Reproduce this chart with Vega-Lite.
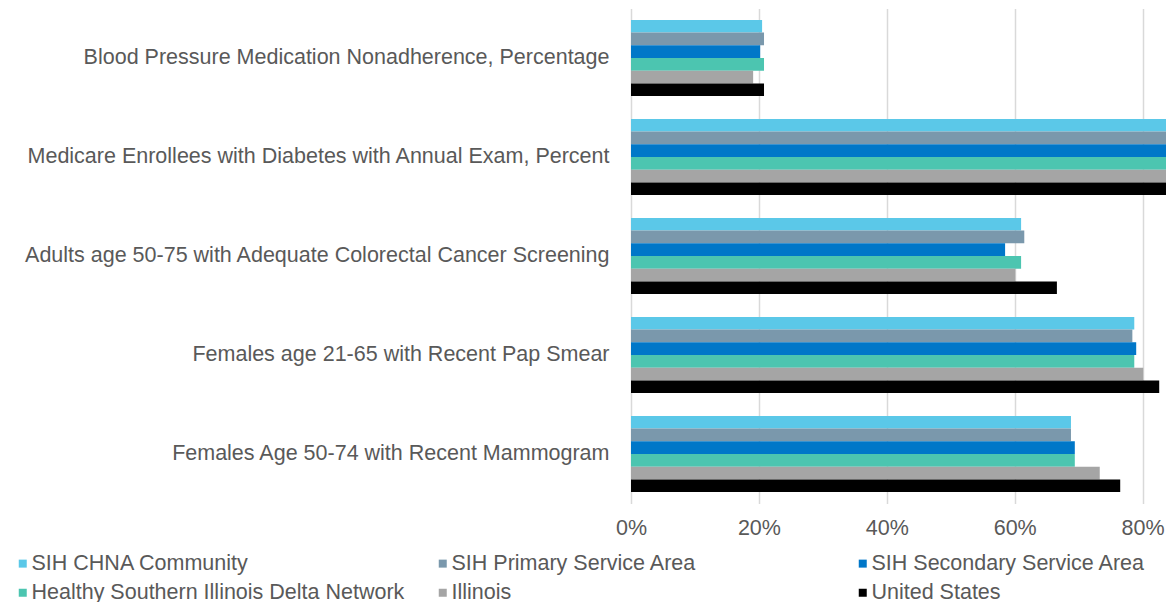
{
  "$schema": "https://vega.github.io/schema/vega-lite/v6.json",
  "autosize": {"type": "none"},
  "width": 535,
  "height": 495,
  "padding": {"left": 631, "top": 8.5, "right": 0, "bottom": 98.5},
  "background": "white",
  "config": {
    "font": "Liberation Sans",
    "view": {"stroke": null}
  },
  "data": {
    "values": [
      {"measure": "Blood Pressure Medication Nonadherence, Percentage", "series": "SIH CHNA Community", "value": 0.205},
      {"measure": "Blood Pressure Medication Nonadherence, Percentage", "series": "SIH Primary Service Area", "value": 0.208},
      {"measure": "Blood Pressure Medication Nonadherence, Percentage", "series": "SIH Secondary Service Area", "value": 0.202},
      {"measure": "Blood Pressure Medication Nonadherence, Percentage", "series": "Healthy Southern Illinois Delta Network", "value": 0.208},
      {"measure": "Blood Pressure Medication Nonadherence, Percentage", "series": "Illinois", "value": 0.191},
      {"measure": "Blood Pressure Medication Nonadherence, Percentage", "series": "United States", "value": 0.208},
      {"measure": "Medicare Enrollees with Diabetes with Annual Exam, Percent", "series": "SIH CHNA Community", "value": 0.86},
      {"measure": "Medicare Enrollees with Diabetes with Annual Exam, Percent", "series": "SIH Primary Service Area", "value": 0.87},
      {"measure": "Medicare Enrollees with Diabetes with Annual Exam, Percent", "series": "SIH Secondary Service Area", "value": 0.86},
      {"measure": "Medicare Enrollees with Diabetes with Annual Exam, Percent", "series": "Healthy Southern Illinois Delta Network", "value": 0.86},
      {"measure": "Medicare Enrollees with Diabetes with Annual Exam, Percent", "series": "Illinois", "value": 0.85},
      {"measure": "Medicare Enrollees with Diabetes with Annual Exam, Percent", "series": "United States", "value": 0.86},
      {"measure": "Adults age 50-75 with Adequate Colorectal Cancer Screening", "series": "SIH CHNA Community", "value": 0.610},
      {"measure": "Adults age 50-75 with Adequate Colorectal Cancer Screening", "series": "SIH Primary Service Area", "value": 0.615},
      {"measure": "Adults age 50-75 with Adequate Colorectal Cancer Screening", "series": "SIH Secondary Service Area", "value": 0.585},
      {"measure": "Adults age 50-75 with Adequate Colorectal Cancer Screening", "series": "Healthy Southern Illinois Delta Network", "value": 0.610},
      {"measure": "Adults age 50-75 with Adequate Colorectal Cancer Screening", "series": "Illinois", "value": 0.601},
      {"measure": "Adults age 50-75 with Adequate Colorectal Cancer Screening", "series": "United States", "value": 0.666},
      {"measure": "Females age 21-65 with Recent Pap Smear", "series": "SIH CHNA Community", "value": 0.787},
      {"measure": "Females age 21-65 with Recent Pap Smear", "series": "SIH Primary Service Area", "value": 0.784},
      {"measure": "Females age 21-65 with Recent Pap Smear", "series": "SIH Secondary Service Area", "value": 0.790},
      {"measure": "Females age 21-65 with Recent Pap Smear", "series": "Healthy Southern Illinois Delta Network", "value": 0.787},
      {"measure": "Females age 21-65 with Recent Pap Smear", "series": "Illinois", "value": 0.801},
      {"measure": "Females age 21-65 with Recent Pap Smear", "series": "United States", "value": 0.826},
      {"measure": "Females Age 50-74 with Recent Mammogram", "series": "SIH CHNA Community", "value": 0.688},
      {"measure": "Females Age 50-74 with Recent Mammogram", "series": "SIH Primary Service Area", "value": 0.688},
      {"measure": "Females Age 50-74 with Recent Mammogram", "series": "SIH Secondary Service Area", "value": 0.694},
      {"measure": "Females Age 50-74 with Recent Mammogram", "series": "Healthy Southern Illinois Delta Network", "value": 0.694},
      {"measure": "Females Age 50-74 with Recent Mammogram", "series": "Illinois", "value": 0.733},
      {"measure": "Females Age 50-74 with Recent Mammogram", "series": "United States", "value": 0.765}
    ]
  },
  "mark": {"type": "bar", "clip": true},
  "encoding": {
    "y": {
      "field": "measure",
      "type": "nominal",
      "sort": [
        "Blood Pressure Medication Nonadherence, Percentage",
        "Medicare Enrollees with Diabetes with Annual Exam, Percent",
        "Adults age 50-75 with Adequate Colorectal Cancer Screening",
        "Females age 21-65 with Recent Pap Smear",
        "Females Age 50-74 with Recent Mammogram"
      ],
      "scale": {"paddingInner": 0.23, "paddingOuter": 0.115},
      "axis": {
        "title": null,
        "domain": false,
        "ticks": false,
        "labelPadding": 22,
        "labelFontSize": 21.5,
        "labelColor": "#595959",
        "labelLimit": 700
      }
    },
    "yOffset": {
      "field": "series",
      "type": "nominal",
      "sort": [
        "SIH CHNA Community",
        "SIH Primary Service Area",
        "SIH Secondary Service Area",
        "Healthy Southern Illinois Delta Network",
        "Illinois",
        "United States"
      ],
      "scale": {"paddingInner": 0, "paddingOuter": 0}
    },
    "x": {
      "field": "value",
      "type": "quantitative",
      "scale": {"domain": [0, 0.8366], "nice": false, "zero": true},
      "axis": {
        "title": null,
        "format": ".0%",
        "values": [0, 0.2, 0.4, 0.6, 0.8],
        "domain": false,
        "ticks": false,
        "grid": true,
        "gridColor": "#d9d9d9",
        "gridWidth": 1.5,
        "labelFontSize": 21.5,
        "labelColor": "#595959",
        "labelPadding": 14,
        "labelFlush": false
      }
    },
    "color": {
      "field": "series",
      "type": "nominal",
      "sort": [
        "SIH CHNA Community",
        "SIH Primary Service Area",
        "SIH Secondary Service Area",
        "Healthy Southern Illinois Delta Network",
        "Illinois",
        "United States"
      ],
      "scale": {
        "domain": [
          "SIH CHNA Community",
          "SIH Primary Service Area",
          "SIH Secondary Service Area",
          "Healthy Southern Illinois Delta Network",
          "Illinois",
          "United States"
        ],
        "range": ["#5BC8E8", "#7A98AC", "#0077C8", "#4CC5B0", "#A5A5A5", "#000000"]
      },
      "legend": {
        "title": null,
        "orient": "none",
        "legendX": -619,
        "legendY": 544,
        "direction": "horizontal",
        "columns": 3,
        "gridAlign": "all",
        "columnPadding": 27,
        "rowPadding": 6.5,
        "symbolType": "square",
        "symbolSize": 64,
        "symbolStrokeWidth": 0,
        "symbolOffset": 0,
        "labelOffset": -2,
        "labelFontSize": 21.5,
        "labelColor": "#595959",
        "labelLimit": 500
      }
    }
  }
}
